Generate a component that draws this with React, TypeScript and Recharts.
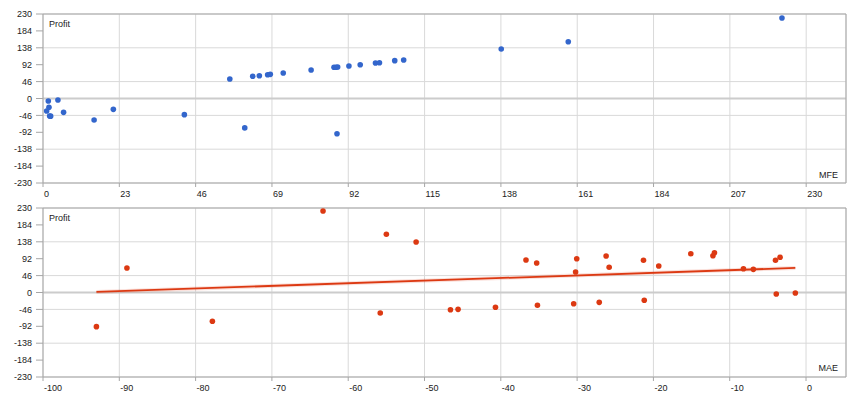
import { ScatterChart, Scatter, XAxis, YAxis, CartesianGrid, ReferenceLine } from "recharts";

const profitTicks = [-230, -184, -138, -92, -46, 0, 46, 92, 138, 184, 230];
const mfeTicks = [0, 23, 46, 69, 92, 115, 138, 161, 184, 207, 230];
const maeTicks = [-100, -90, -80, -70, -60, -50, -40, -30, -20, -10, 0];

// MFE vs profit, one entry per trade
const mfeValues = [
  1.6, 1.1, 1.8, 2.0, 2.3, 4.5, 6.2, 15.4, 21.2, 42.6, 56.3, 60.8, 63.2, 65.2, 67.7, 68.5,
  72.4, 80.8, 87.7, 88.3, 88.8, 88.6, 92.2, 95.6, 100.2, 101.4, 106, 108.7, 138.1, 158.3, 222.7,
];
const mfeProfit = [
  -6.8, -34, -24, -47.6, -48, -4, -37.7, -58.5, -29.5, -44, 53, -80, 60.4, 62, 64.8, 65.8,
  69.4, 77.6, 84.9, 85, 85.7, -95.8, 88.5, 92, 96.6, 97.5, 103, 104.8, 134.7, 154.6, 219,
];

// MAE vs profit
const maeValues = [
  -93, -89, -77.8, -63.3, -55, -51.1, -55.8, -46.6, -45.6, -40.7, -36.7, -35.3, -35.2, -30.05,
  -30.2, -30.45, -26.2, -25.8, -27.1, -21.3, -21.2, -19.3, -15.1, -12.2, -12, -8.2, -6.9, -4,
  -3.4, -3.9, -1.4,
];
const maeProfit = [
  -93, 66.7, -78.4, 221.8, 158.4, 137.5, -55.8, -46.8, -45.8, -40.3, 88.5, 80.3, -34.8, 92,
  55.8, -30.5, 99.4, 68.6, -26.8, 87.6, -21.2, 72, 105.6, 100.2, 108.3, 64.8, 63, 87.6, 95.8,
  -4.1, -1.4,
];

const MFE_MAX = 242;
const MAE_MAX = 5.24;

const BLUE = "#3366cc";
const RED = "#dc3912";
const GRID = "#d9d9d9";
const FRAME = "#a6a6a6";
const FONT = "'Liberation Sans', Arial, sans-serif";

const mfeData = mfeValues.map((x, i) => ({ x, y: mfeProfit[i] }));
const maeData = maeValues.map((x, i) => ({ x, y: maeProfit[i] }));

// least squares trend over the MAE points
function trendOf(xs: number[], ys: number[]) {
  const n = xs.length;
  const mx = xs.reduce((s, v) => s + v, 0) / n;
  const my = ys.reduce((s, v) => s + v, 0) / n;
  let sxy = 0;
  let sxx = 0;
  xs.forEach((x, i) => {
    sxy += (x - mx) * (ys[i] - my);
    sxx += (x - mx) * (x - mx);
  });
  const b = sxy / sxx;
  const a = my - b * mx;
  const x0 = Math.min(...xs);
  const x1 = Math.max(...xs);
  return [
    { x: x0, y: a + b * x0 },
    { x: x1, y: a + b * x1 },
  ];
}
const maeTrend = trendOf(maeValues, maeProfit);

function XTick({ x, y, payload }: any) {
  return (
    <text x={x + 1} y={y} dy="0.71em" fontSize={9} fill="#222" textAnchor="start">
      {payload.value}
    </text>
  );
}

const dot = (color: string) => (p: any) => <circle cx={p.cx} cy={p.cy} r={2.8} fill={color} />;

const label = (text: string, left: number, top: number, align: "left" | "right" = "left") => (
  <div
    style={{
      position: "absolute",
      left: align === "left" ? left : left - 60,
      top,
      width: align === "left" ? undefined : 60,
      textAlign: align,
      fontSize: 9,
      lineHeight: "9px",
      color: "#222",
      fontFamily: FONT,
    }}
  >
    {text}
  </div>
);

function Panel({ data, ticks, domain, color, trend }: any) {
  return (
    <ScatterChart width={860} height={200} margin={{ top: 14, right: 14, bottom: 0, left: 0 }}>
      <CartesianGrid stroke={GRID} />
      <XAxis
        type="number"
        dataKey="x"
        domain={domain}
        ticks={ticks}
        allowDataOverflow
        height={17}
        tickSize={4}
        tickMargin={4}
        tick={<XTick />}
        stroke={FRAME}
      />
      <YAxis
        type="number"
        dataKey="y"
        domain={[-230, 230]}
        ticks={profitTicks}
        allowDataOverflow
        width={43}
        tickSize={7}
        tickMargin={4}
        tick={{ fontSize: 9, fill: "#222" }}
        stroke={FRAME}
      />
      <ReferenceLine y={0} stroke="#cccccc" strokeWidth={2} />
      <ReferenceLine y={230} stroke={FRAME} />
      <ReferenceLine x={domain[1]} stroke={FRAME} />
      {trend && (
        <Scatter
          data={trend}
          line={{ stroke: RED, strokeWidth: 4, strokeOpacity: 0.15 }}
          shape={() => <g />}
          isAnimationActive={false}
        />
      )}
      {trend && (
        <Scatter
          data={trend}
          line={{ stroke: RED, strokeWidth: 1.8 }}
          shape={() => <g />}
          isAnimationActive={false}
        />
      )}
      <Scatter data={data} fill={color} shape={dot(color)} isAnimationActive={false} />
    </ScatterChart>
  );
}

export default function App() {
  return (
    <div
      style={{
        position: "absolute",
        left: 0,
        top: 0,
        width: 860,
        height: 400,
        background: "#fff",
        fontFamily: FONT,
      }}
    >
      <div style={{ position: "absolute", left: 0, top: 0 }}>
        <Panel data={mfeData} ticks={mfeTicks} domain={[0, MFE_MAX]} color={BLUE} />
      </div>
      <div style={{ position: "absolute", left: 0, top: 194 }}>
        <Panel data={maeData} ticks={maeTicks} domain={[-100, MAE_MAX]} color={RED} trend={maeTrend} />
      </div>
      {label("Profit", 49, 19.5)}
      {label("MFE", 838, 170.5, "right")}
      {label("Profit", 49, 213.5)}
      {label("MAE", 838, 364, "right")}
    </div>
  );
}
